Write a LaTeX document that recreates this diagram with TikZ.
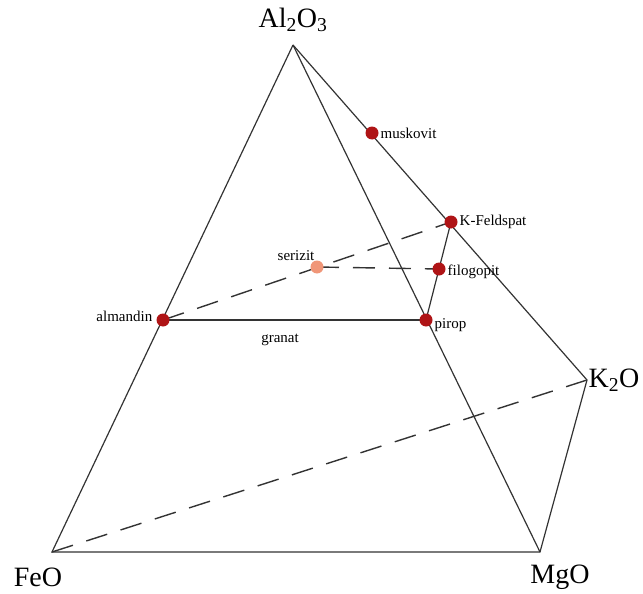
\documentclass[tikz,border=0pt]{standalone}
\usepackage{fontspec}
\setmainfont{Liberation Serif}
\usetikzlibrary{positioning}

\definecolor{mineral}{RGB}{175,20,22}
\definecolor{serizitc}{RGB}{240,150,120}

\begin{document}
\begin{tikzpicture}[
  x=1pt, y=-1pt,
  line width=1.2pt,
  %% Styles
  edge/.style={draw=black!80},
  tieline/.style={draw=black!80, line width=1.4pt, dash pattern=on 22pt off 14pt},
  corner/.style={font=\fontsize{28}{30}\selectfont, inner sep=1pt},
  phase/.style={circle, fill=mineral, inner sep=0pt, minimum size=13pt},
  phaselabel/.style={font=\fontsize{15}{17}\selectfont, inner sep=1pt},
]
\useasboundingbox (0,0) rectangle (643,594);

%% ── CORNERS ───────────────────────────────────────────────────────────────
\coordinate (al) at (293, 45);
\coordinate (fe) at (52, 552);
\coordinate (mg) at (540, 552);
\coordinate (k)  at (587, 380);

%% ── PHASE POSITIONS ───────────────────────────────────────────────────────
\coordinate (alm) at (163, 320);
\coordinate (pir) at (426, 320);
\coordinate (mus) at (372, 133);
\coordinate (kfs) at (451, 222);
\coordinate (fil) at (439, 269);
\coordinate (ser) at (317, 267);

%% ── EDGES ─────────────────────────────────────────────────────────────────
\draw[edge] (al) -- (fe) -- (mg) -- (k) -- (al);
\draw[edge] (al) -- (mg);
\draw[tieline] (fe) -- (k);

%% ── TIE LINES ─────────────────────────────────────────────────────────────
\draw[edge, line width=1.8pt] (alm) -- (pir);
\draw[edge] (pir) -- (fil) -- (kfs);
\draw[tieline] (alm) -- (kfs);
\draw[tieline] (ser) -- (fil);

%% ── PHASES ────────────────────────────────────────────────────────────────
\foreach \ph in {alm, pir, mus, kfs, fil}
  \node[phase] (\ph-dot) at (\ph) {};
\node[phase, fill=serizitc] (ser-dot) at (ser) {};

%% ── LABELS ────────────────────────────────────────────────────────────────
\node[corner] (al-lab) at (293, 20) {Al\textsubscript{2}O\textsubscript{3}};
\node[corner] (fe-lab) at (38, 577) {FeO};
\node[corner] (mg-lab) at (560, 577) {MgO};
\node[corner, right=0pt of k] (k-lab) {K\textsubscript{2}O};

\node[phaselabel, right=0pt of mus-dot] {muskovit};
\node[phaselabel, right=0pt of kfs-dot] {K-Feldspat};
\node[phaselabel, right=0pt of fil-dot, yshift=-3pt] {filogopit};
\node[phaselabel, right=0pt of pir-dot, yshift=-5pt] {pirop};
\node[phaselabel, left=2pt of alm-dot, yshift=4pt] {almandin};
\node[phaselabel, above left=0pt and -4pt of ser-dot] {serizit};
\node[phaselabel] (granat) at (280, 340) {granat};

\end{tikzpicture}
\end{document}
